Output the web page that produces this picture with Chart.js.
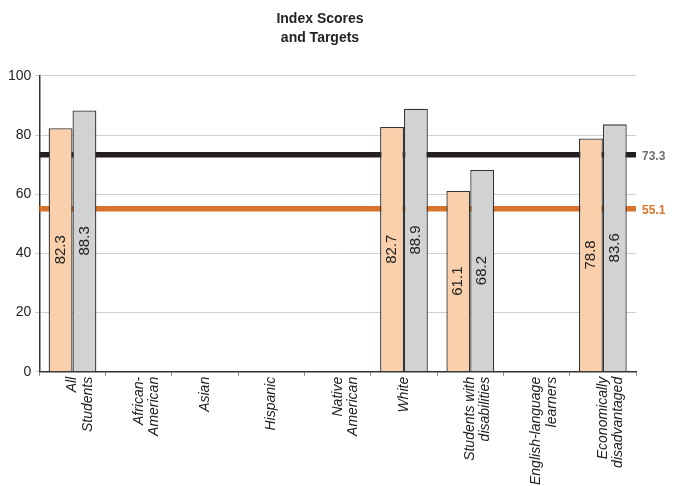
<!DOCTYPE html>
<html>
<head>
<meta charset="utf-8">
<script src="https://cdn.jsdelivr.net/npm/chart.js@4"></script>
<style>
  body { margin: 0; background: #fff; }
  #wrap { width: 674px; height: 486px; }
</style>
</head>
<body>
<div id="wrap"><canvas id="grafico" width="674" height="486"></canvas></div>
<script>
// categorias e valores
const categorias = [
  ['All', 'Students'],
  ['African-', 'American'],
  'Asian',
  'Hispanic',
  ['Native', 'American'],
  'White',
  ['Students with', 'disabilities'],
  ['English-language', 'learners'],
  ['Economically', 'disadvantaged']
];
const indexScores = [82.3, null, null, null, null, 82.7, 61.1, null, 78.8];
const targetsSerie = [88.3, null, null, null, null, 88.9, 68.2, null, 83.6];
const metas = [73.3, 55.1];
const coresMetas = ['#231f20', '#d8732b'];
const coresRotulos = ['#6d6e71', '#d8732b'];
const yTicks = [0, 20, 40, 60, 80, 100];

// linhas de meta (atrás das barras)
const linhasMeta = {
  id: 'linhasMeta',
  beforeDatasetsDraw(chart) {
    const { ctx, chartArea, scales } = chart;
    ctx.save();
    metas.forEach((m, i) => {
      const y = scales.y.getPixelForValue(m);
      ctx.strokeStyle = coresMetas[i];
      ctx.lineWidth = 5.5;
      ctx.beginPath();
      ctx.moveTo(chartArea.left, y);
      ctx.lineTo(chartArea.right, y);
      ctx.stroke();
    });
    ctx.restore();
  },
  afterDraw(chart) {
    const { ctx, chartArea, scales } = chart;
    ctx.save();
    ctx.font = 'bold 12px "Liberation Sans", Arial, sans-serif';
    ctx.textBaseline = 'middle';
    ctx.textAlign = 'left';
    metas.forEach((m, i) => {
      const y = scales.y.getPixelForValue(m);
      ctx.fillStyle = coresRotulos[i];
      ctx.fillText(m.toFixed(1), chartArea.right + 6, y + 2);
    });
    ctx.restore();
  }
};

// rótulos de valor dentro das barras
const rotulosBarras = {
  id: 'rotulosBarras',
  afterDatasetsDraw(chart) {
    const { ctx } = chart;
    ctx.save();
    ctx.font = '15px "Liberation Sans", Arial, sans-serif';
    ctx.fillStyle = '#222';
    ctx.textAlign = 'center';
    ctx.textBaseline = 'middle';
    chart.data.datasets.forEach((ds, di) => {
      chart.getDatasetMeta(di).data.forEach((bar, i) => {
        const v = ds.data[i];
        if (v == null) return;
        const cy = (bar.y + bar.base) / 2;
        ctx.save();
        ctx.translate(bar.x, cy);
        ctx.rotate(-Math.PI / 2);
        ctx.fillText(v.toFixed(1), 0, 0);
        ctx.restore();
      });
    });
    ctx.restore();
  }
};

const ctx = document.getElementById('grafico').getContext('2d');
new Chart(ctx, {
  type: 'bar',
  data: {
    labels: categorias,
    datasets: [
      {
        label: 'Index Score',
        data: indexScores,
        backgroundColor: '#f9d0ab',
        borderColor: '#333',
        borderWidth: 1.3
      },
      {
        label: 'Target',
        data: targetsSerie,
        backgroundColor: '#d1d2d4',
        borderColor: '#333',
        borderWidth: 1.3
      }
    ]
  },
  options: {
    responsive: false,
    animation: false,
    layout: { padding: { left: 4, right: 38, top: 0, bottom: 0 } },
    datasets: { bar: { categoryPercentage: 0.72, barPercentage: 1 } },
    plugins: {
      legend: { display: false },
      tooltip: { enabled: false },
      title: {
        display: true,
        text: ['Index Scores', 'and Targets'],
        color: '#222',
        font: { family: '"Liberation Sans", Arial, sans-serif', size: 14, weight: 'bold', lineHeight: 1.35 },
        padding: { top: 10, bottom: 28 }
      }
    },
    scales: {
      x: {
        grid: { display: true, drawOnChartArea: false, color: '#888', tickLength: 4, offset: true },
        border: { color: '#333', width: 1.5 },
        ticks: {
          minRotation: 90,
          maxRotation: 90,
          autoSkip: false,
          color: '#222',
          padding: 1,
          font: { family: '"Liberation Sans", Arial, sans-serif', size: 14, style: 'italic', lineHeight: 1.08 }
        }
      },
      y: {
        min: 0,
        max: 100,
        afterBuildTicks: axis => { axis.ticks = yTicks.map(v => ({ value: v })); },
        grid: { color: '#cfcfcf', lineWidth: 1, tickLength: 4 },
        border: { color: '#333', width: 1.5 },
        ticks: {
          color: '#222',
          padding: 4,
          font: { family: '"Liberation Sans", Arial, sans-serif', size: 14 }
        }
      }
    }
  },
  plugins: [linhasMeta, rotulosBarras]
});
</script>
</body>
</html>
